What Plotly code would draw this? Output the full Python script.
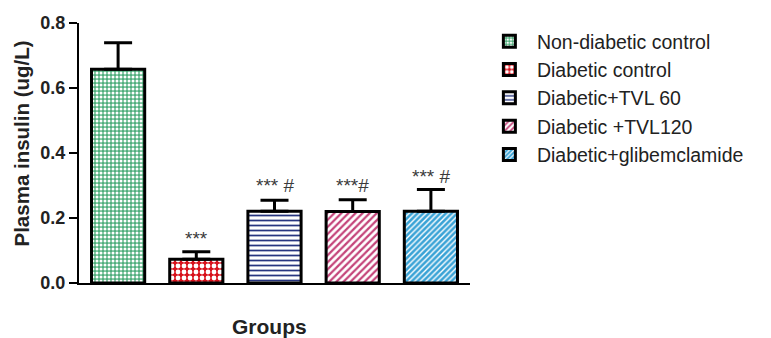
import plotly.graph_objects as go

# Group means and upper SEM for plasma insulin
groups = ["Non-diabetic control", "Diabetic control", "Diabetic+TVL 60",
          "Diabetic +TVL120", "Diabetic+glibemclamide"]
means = [0.658, 0.073, 0.221, 0.220, 0.221]
sem = [0.081, 0.023, 0.034, 0.036, 0.067]
sig_labels = ["", "***", "*** #", "***#", "*** #"]

# Fill styles per group
patterns = [
    dict(shape=".", bgcolor="#4fae7c", fgcolor="#ffffff", size=4, solidity=0.45),
    dict(shape=".", bgcolor="#d8121c", fgcolor="#ffffff", size=6, solidity=0.5),
    dict(shape="-", bgcolor="#ffffff", fgcolor="#27357f", size=5, solidity=0.35),
    dict(shape="/", bgcolor="#ffffff", fgcolor="#c4447a", size=5, solidity=0.45),
    dict(shape="/", bgcolor="#3aa3d6", fgcolor="#ffffff", size=4, solidity=0.35),
]
label_shift = [0, 1, 2, 2, 0]

FONT = "Arial, Liberation Sans, sans-serif"

fig = go.Figure()
for i, (g, m, e, p) in enumerate(zip(groups, means, sem, patterns)):
    fig.add_trace(go.Bar(
        x=[i], y=[m], name=g, width=0.68,
        legendgroup=g,
        marker=dict(color=p["bgcolor"], pattern=dict(fillmode="replace", **p),
                    line=dict(color="black", width=3)),
        error_y=dict(type="data", array=[e], arrayminus=[0], symmetric=False,
                     color="black", thickness=3, width=14),
    ))
    if sig_labels[i]:
        fig.add_annotation(x=i, y=m + e, text=sig_labels[i], showarrow=False,
                           yanchor="bottom", yshift=label_shift[i],
                           font=dict(family=FONT, size=19, color="#3a3a3a"))

# Axis titles
fig.add_annotation(xref="paper", yref="paper", x=-0.148, y=0.537,
                   text="<b>Plasma insulin (ug/L)</b>", textangle=-90,
                   showarrow=False, xanchor="center", yanchor="middle",
                   font=dict(family=FONT, size=20.5, color="#222222"))
fig.add_annotation(xref="paper", yref="paper", x=0.488, y=-0.169,
                   text="<b>Groups</b>", showarrow=False,
                   xanchor="center", yanchor="middle",
                   font=dict(family=FONT, size=21, color="#222222"))

fig.update_layout(
    width=771, height=338,
    margin=dict(l=79, r=301, t=23, b=55, autoexpand=False),
    plot_bgcolor="white", paper_bgcolor="white",
    barmode="overlay",
    font=dict(family=FONT, color="#222222"),
    showlegend=True,
    legend=dict(xref="container", yref="container", x=0.625, y=0.935,
                xanchor="left", yanchor="top",
                font=dict(family=FONT, size=19.5, color="#222222"),
                tracegroupgap=0, itemwidth=45),
    xaxis=dict(range=[-0.5, 4.5], showticklabels=False, ticks="",
               showline=True, linecolor="black", linewidth=2, showgrid=False,
               zeroline=False, automargin=False),
    yaxis=dict(range=[0, 0.8], tickvals=[0, 0.2, 0.4, 0.6, 0.8],
               ticktext=["<b>0.0</b>", "<b>0.2</b>", "<b>0.4</b>", "<b>0.6</b>", "<b>0.8</b>"],
               ticks="outside", ticklen=8, tickwidth=2, tickcolor="black",
               showline=True, linecolor="black", linewidth=2, showgrid=False,
               zeroline=False, automargin=False,
               tickfont=dict(family=FONT, size=18, color="#222222")),
)

fig.write_html("out.html")
